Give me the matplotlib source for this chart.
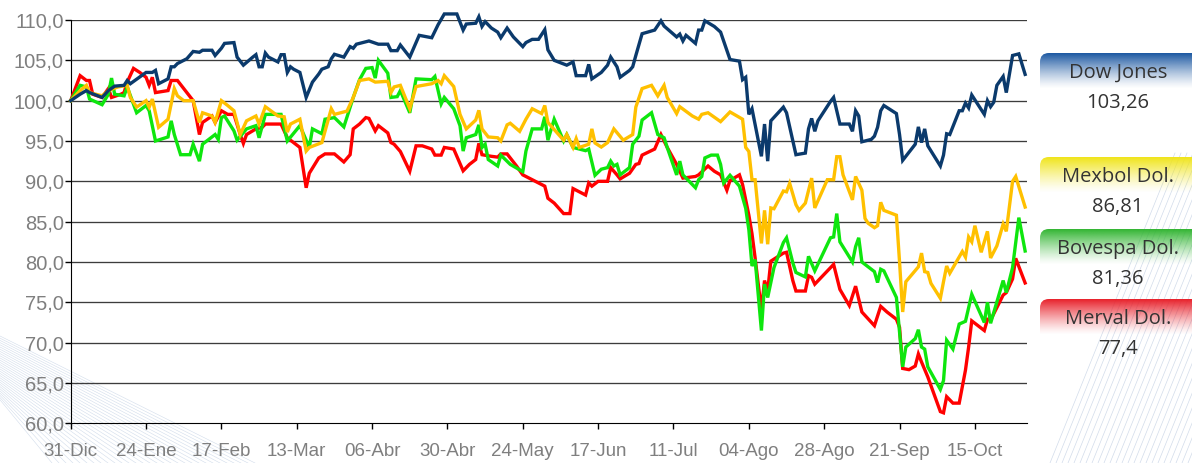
import matplotlib
matplotlib.use("Agg")
import matplotlib.pyplot as plt
import numpy as np
from matplotlib.patches import FancyBboxPatch
from matplotlib.ticker import FuncFormatter, FixedLocator

# days since 31-Dic-2010 and index values (base 100)
dow_days = [0, 3, 5, 6, 10, 12, 14, 17, 18, 19, 24, 26, 27, 28, 31, 32, 33, 34, 37, 39, 41, 42, 45, 46, 48, 49,
            52, 53, 55, 58, 59, 60, 61, 62, 63, 66, 67, 68, 69, 70, 71, 73, 75, 77, 79, 80, 82, 83, 84, 87, 89, 90,
            91, 95, 98, 101, 102, 104, 105, 108, 111, 115, 117, 119, 123, 125, 126, 129, 130, 131, 132, 134, 136,
            137, 139, 141, 144, 145, 147, 149, 151, 152, 154, 158, 160, 161, 164, 165, 166, 169, 171, 172, 174,
            175, 178, 179, 180, 182, 186, 188, 189, 193, 194, 195, 196, 199, 200, 201, 202, 205, 207, 209, 210,
            213, 214, 215, 216, 217, 220, 221, 222, 223, 227, 228, 230, 231, 234, 235, 236, 237, 238, 242, 243,
            245, 248, 249, 250, 251, 252, 255, 256, 257, 258, 259, 263, 264, 265, 266, 269, 270, 271, 272, 273,
            277, 278, 279, 280, 283, 284, 285, 286, 287, 291, 292, 293, 294, 295, 297, 298, 300, 302, 304]
dow_vals = [100.0, 100.8, 101.25, 101.0, 100.4, 101.25, 101.8, 101.9, 102.5, 102.1, 103.5, 103.5, 103.75, 102.1,
            102.7, 104.2, 104.2, 104.6, 105.2, 106.1, 106.0, 106.25, 106.25, 105.6, 106.5, 107.1, 107.2, 105.4,
            104.4, 105.4, 105.7, 104.2, 104.2, 105.9, 105.4, 104.8, 105.7, 105.7, 103.5, 104.2, 103.9, 103.5,
            100.4, 102.3, 103.3, 103.9, 104.2, 105.2, 105.75, 105.4, 106.7, 106.5, 107.0, 107.4, 107.0, 107.0,
            106.2, 106.2, 106.9, 105.4, 108.1, 107.8, 109.4, 110.75, 110.75, 108.75, 109.5, 109.6, 110.4, 109.2,
            109.8, 109.0, 108.5, 107.8, 109.0, 107.9, 106.7, 107.2, 107.6, 107.6, 108.8, 106.3, 105.0, 104.4,
            104.8, 103.1, 103.1, 104.5, 102.7, 103.5, 104.4, 105.4, 104.2, 102.9, 103.75, 104.2, 105.6, 108.3,
            108.75, 109.9, 109.25, 107.9, 108.25, 107.4, 108.1, 107.1, 108.75, 108.75, 109.9, 109.2, 108.5,
            106.25, 105.1, 104.9, 102.6, 102.9, 98.3, 99.0, 93.1, 97.1, 92.5, 97.5, 99.2, 98.5, 95.0, 93.3, 93.5,
            96.5, 97.8, 96.2, 97.5, 99.9, 100.4, 97.1, 97.1, 96.2, 98.75, 98.1, 94.9, 95.2, 95.6, 96.7, 98.75,
            99.4, 98.4, 95.8, 92.6, 93.1, 94.6, 96.75, 94.8, 96.5, 94.4, 91.9, 93.25, 95.9, 95.8, 98.75, 98.75,
            99.7, 99.1, 100.7, 98.3, 100.0, 99.25, 99.8, 101.9, 103.0, 101.0, 105.6, 105.8, 103.26]

mex_days = [0, 3, 5, 6, 10, 12, 15, 18, 19, 21, 24, 25, 26, 28, 31, 33, 34, 36, 39, 41, 42, 45, 46, 48, 50, 52,
            54, 56, 59, 60, 62, 66, 68, 69, 70, 73, 75, 76, 80, 83, 84, 88, 90, 92, 95, 97, 101, 102, 103, 105,
            108, 110, 115, 117, 118, 119, 122, 124, 126, 129, 130, 131, 133, 136, 137, 139, 140, 143, 145, 147,
            150, 151, 152, 157, 158, 160, 161, 162, 165, 166, 167, 169, 171, 173, 176, 179, 180, 182, 185, 187,
            189, 190, 193, 194, 198, 200, 201, 203, 207, 210, 214, 215, 216, 217, 218, 220, 221, 222, 223, 224,
            227, 228, 229, 231, 232, 234, 236, 237, 241, 243, 244, 245, 246, 249, 250, 252, 253, 254, 256, 257,
            258, 259, 263, 264, 265, 266, 270, 271, 272, 273, 274, 277, 278, 279, 280, 284, 285, 286, 287, 288,
            290, 292, 293, 295, 297, 298, 300, 301, 304]
mex_vals = [100.0, 101.25, 101.9, 101.0, 100.6, 101.25, 101.7, 101.9, 100.4, 99.2, 100.0, 99.2, 100.2, 96.7,
            97.7, 101.5, 100.6, 100.0, 100.0, 97.3, 98.5, 98.1, 97.3, 100.0, 99.4, 98.75, 95.8, 97.5, 98.1, 97.1,
            99.25, 98.1, 98.0, 96.1, 97.1, 97.7, 93.75, 94.2, 94.8, 99.0, 98.3, 98.7, 100.4, 102.5, 102.7, 102.3,
            102.4, 101.0, 101.7, 101.9, 99.0, 101.75, 102.1, 102.5, 102.1, 103.1, 101.75, 98.3, 96.5, 97.6, 98.8,
            96.5, 95.5, 95.4, 95.0, 97.0, 97.2, 96.2, 97.7, 99.0, 98.4, 99.4, 97.3, 95.1, 95.8, 94.2, 95.3, 94.2,
            94.6, 96.5, 94.75, 94.25, 94.8, 96.5, 95.1, 95.8, 99.2, 101.5, 101.9, 100.6, 101.9, 100.4, 98.4,
            99.25, 98.1, 97.7, 98.3, 98.5, 97.4, 98.6, 97.7, 94.2, 93.7, 90.2, 90.2, 82.3, 86.4, 82.2, 86.7,
            86.6, 88.8, 88.7, 89.75, 87.1, 86.4, 87.3, 90.4, 86.7, 90.2, 90.2, 93.05, 93.05, 90.8, 87.7, 90.6,
            88.9, 85.4, 84.8, 84.25, 84.5, 87.4, 86.4, 85.8, 80.0, 73.8, 77.55, 79.4, 81.1, 78.8, 78.7, 77.35,
            75.5, 77.55, 79.5, 78.6, 81.3, 80.6, 83.1, 82.5, 84.5, 81.2, 83.8, 80.5, 82.0, 84.7, 83.8, 90.0,
            90.6, 86.81]

bov_days = [0, 3, 5, 6, 10, 12, 13, 14, 17, 18, 21, 24, 25, 27, 31, 32, 33, 35, 38, 39, 41, 42, 46, 47, 48, 49,
            52, 53, 56, 59, 60, 62, 67, 69, 73, 76, 77, 80, 81, 84, 87, 90, 92, 94, 96, 97, 98, 101, 102, 104,
            105, 108, 110, 115, 116, 118, 119, 122, 124, 125, 126, 129, 130, 131, 132, 133, 136, 137, 140, 144,
            145, 147, 150, 151, 152, 154, 157, 158, 160, 164, 165, 167, 169, 171, 172, 173, 174, 175, 178, 179,
            181, 182, 185, 187, 189, 190, 193, 194, 195, 199, 200, 201, 202, 204, 206, 207, 208, 210, 213, 215,
            216, 217, 218, 220, 221, 222, 224, 227, 228, 230, 231, 234, 235, 237, 242, 243, 244, 245, 249, 250,
            251, 252, 256, 257, 258, 259, 263, 265, 266, 269, 270, 271, 272, 273, 277, 278, 279, 281, 283, 285,
            287, 291, 292, 293, 297, 298, 300, 302, 304]
bov_vals = [100.0, 101.9, 101.7, 100.2, 99.5, 100.8, 102.8, 100.8, 100.6, 101.7, 98.5, 99.4, 98.75, 95.0, 95.5,
            97.5, 95.8, 93.3, 93.3, 94.6, 92.5, 94.6, 95.8, 95.2, 97.9, 98.1, 96.25, 95.1, 96.5, 96.9, 95.4, 98.3,
            98.3, 95.0, 96.9, 94.2, 96.5, 95.9, 97.7, 97.9, 96.75, 100.4, 102.6, 104.0, 104.1, 102.8, 105.0,
            103.4, 100.4, 100.5, 101.25, 98.5, 102.7, 102.6, 103.0, 99.6, 100.4, 99.0, 96.9, 93.75, 95.4, 95.8,
            97.0, 94.2, 94.6, 92.7, 91.9, 93.25, 92.1, 91.2, 93.75, 96.5, 96.5, 98.0, 95.1, 97.7, 95.0, 95.8,
            94.2, 93.8, 94.0, 90.75, 91.5, 91.7, 92.5, 91.9, 92.1, 90.8, 91.7, 94.6, 95.6, 97.6, 98.5, 95.8,
            95.4, 94.2, 90.8, 92.5, 90.8, 89.2, 90.2, 90.6, 92.9, 93.25, 93.25, 92.1, 89.8, 90.75, 89.4, 86.65,
            84.0, 79.5, 80.3, 71.5, 77.25, 75.6, 79.3, 82.4, 83.0, 79.9, 78.7, 78.15, 80.7, 78.9, 83.0, 83.1,
            86.0, 82.5, 80.0, 81.9, 83.0, 80.0, 78.8, 77.45, 79.1, 78.9, 75.6, 67.0, 69.45, 70.5, 71.6, 69.45,
            69.2, 67.0, 64.2, 65.3, 70.3, 69.2, 72.3, 72.65, 76.0, 72.5, 75.0, 72.4, 77.7, 76.2, 79.3, 85.5, 81.36]

mer_days = [0, 3, 5, 6, 7, 10, 12, 13, 16, 17, 18, 20, 22, 24, 25, 26, 27, 31, 32, 34, 36, 39, 41, 42, 45, 46,
            48, 50, 52, 54, 55, 56, 59, 61, 62, 67, 69, 73, 75, 76, 79, 81, 84, 87, 89, 90, 92, 94, 95, 97, 98,
            101, 102, 103, 105, 108, 110, 112, 115, 116, 118, 119, 122, 123, 125, 127, 129, 130, 131, 134, 136,
            137, 139, 142, 144, 147, 150, 151, 152, 154, 157, 159, 160, 164, 165, 166, 168, 171, 172, 174, 175,
            178, 180, 181, 182, 186, 188, 190, 193, 195, 199, 200, 203, 205, 207, 209, 210, 213, 214, 216, 217,
            218, 220, 221, 222, 223, 225, 227, 228, 230, 231, 234, 235, 236, 237, 243, 245, 248, 250, 252, 256,
            258, 260, 263, 264, 265, 267, 269, 270, 271, 273, 277, 278, 279, 281, 283, 285, 286, 287, 291, 292,
            293, 297, 298, 300, 301, 304]
mer_vals = [100.0, 103.1, 102.5, 102.5, 100.8, 100.4, 101.5, 100.4, 100.8, 101.0, 102.3, 104.0, 103.5, 102.9,
            101.9, 102.9, 101.0, 101.25, 102.5, 102.5, 101.5, 100.0, 95.8, 97.3, 98.1, 97.3, 98.75, 98.3, 98.3,
            95.8, 94.7, 95.8, 96.5, 96.7, 97.1, 97.1, 95.4, 94.2, 89.2, 91.0, 92.9, 93.4, 93.4, 92.4, 93.3, 96.5,
            97.1, 97.9, 97.8, 96.25, 96.9, 96.0, 94.8, 94.6, 93.7, 91.25, 94.4, 94.4, 94.0, 93.25, 93.25, 94.2,
            94.0, 93.1, 91.3, 92.1, 92.7, 94.7, 93.3, 93.1, 93.0, 93.4, 93.4, 91.9, 90.8, 90.2, 89.6, 89.4, 87.9,
            87.3, 86.0, 86.0, 89.1, 88.3, 89.8, 89.4, 90.0, 90.0, 91.7, 90.8, 90.3, 91.0, 92.1, 92.2, 93.25, 94.0,
            95.8, 94.2, 92.1, 90.4, 90.6, 90.8, 91.9, 91.25, 90.8, 88.9, 90.1, 90.8, 89.6, 85.8, 83.5, 80.5, 74.0,
            77.7, 76.4, 80.1, 80.6, 81.1, 81.2, 77.7, 76.4, 76.4, 78.3, 78.1, 77.25, 79.7, 76.6, 74.6, 77.0, 73.8,
            72.1, 74.5, 73.8, 72.9, 71.9, 66.8, 66.65, 67.1, 68.6, 67.6, 65.75, 61.45, 61.3, 63.3, 62.5, 62.5,
            66.6, 69.45, 72.7, 71.5, 72.9, 72.8, 75.9, 76.2, 77.9, 80.45, 77.4]

tick_days = [0, 24, 48, 72, 96, 120, 144, 168, 192, 216, 240, 264, 288]
tick_labels = ["31-Dic", "24-Ene", "17-Feb", "13-Mar", "06-Abr", "30-Abr", "24-May", "17-Jun", "11-Jul",
               "04-Ago", "28-Ago", "21-Sep", "15-Oct"]

names = ["Dow Jones", "Mexbol Dol.", "Bovespa Dol.", "Merval Dol."]
line_colors = ["#0b3a6c", "#ffc000", "#0ee60e", "#ff0000"]
box_colors = ["#1c58a2", "#f0e41a", "#33b533", "#e8212b"]
box_tops = [53, 157, 229, 299]

W, H = 1192, 463
fig = plt.figure(figsize=(W / 100, H / 100), dpi=100)

# background layer in pixel coordinates
bg = fig.add_axes([0, 0, 1, 1], zorder=0)
bg.set_xlim(0, W)
bg.set_ylim(H, 0)
bg.axis("off")

# faint decorative strokes
for k in range(30):
    bg.plot([0, 255 - k * 7], [336 + k * 2.2, H], color="#c3d1e4", lw=0.4, alpha=0.75)
for k in range(28):
    x0 = 1050 + k * 6
    bg.plot([x0, x0 + 125], [H, H - 310], color="#cdd8e8", lw=0.5, alpha=0.9)

# main chart
ax = fig.add_axes([70.7 / W, 1 - 423.3 / H, 956 / W, 403.3 / H], zorder=1)
ax.patch.set_alpha(0)

series = [(dow_days, dow_vals), (mex_days, mex_vals), (bov_days, bov_vals), (mer_days, mer_vals)]
for i in [3, 2, 1, 0]:
    d, v = series[i]
    ax.plot(d, v, color=line_colors[i], lw=2.4, solid_joinstyle="miter", zorder=3 + (3 - i), clip_on=False)

ax.set_xlim(0, 304.5)
ax.set_ylim(60, 110)
ax.yaxis.set_major_locator(FixedLocator(np.arange(60, 111, 5)))
ax.yaxis.set_major_formatter(FuncFormatter(lambda v, p: f"{v:.1f}".replace(".", ",")))
ax.set_xticks(tick_days)
ax.set_xticklabels(tick_labels)
for y in np.arange(65, 111, 5):
    ax.axhline(y, color="#3c3c3c", lw=0.95, zorder=1)
for s in ["top", "right"]:
    ax.spines[s].set_visible(False)
ax.spines["left"].set_color("black")
ax.spines["bottom"].set_color("black")
ax.tick_params(axis="x", direction="out", length=4, width=1, pad=10, colors="#7f7f7f", labelsize=13.5)
ax.tick_params(axis="y", direction="out", length=4, width=1, pad=1, colors="#7f7f7f", labelsize=14.5)
ax.tick_params(color="black")
for lab in ax.get_xticklabels() + ax.get_yticklabels():
    lab.set_fontfamily("Liberation Sans")

# value tags on the right
for name, col, top, (d, v) in zip(names, box_colors, box_tops, series):
    x0, bh = 1040, 36
    rgba = np.zeros((64, 1, 4))
    rgba[..., :3] = matplotlib.colors.to_rgb(col)
    rgba[:, 0, 3] = np.linspace(1, 0, 64) ** 1.3
    im = bg.imshow(rgba, extent=(x0, W + 10, top + bh, top), aspect="auto", zorder=2, interpolation="bilinear")
    clip = FancyBboxPatch((x0, top), W + 10 - x0, bh + 10, boxstyle="round,pad=0,rounding_size=9",
                          transform=bg.transData, facecolor="none", edgecolor="none")
    bg.add_patch(clip)
    im.set_clip_path(clip)
    last = f"{round(v[-1], 2):g}".replace(".", ",")
    bg.text(1118, top + 20, name, ha="center", va="center", fontsize=14.5, color="#333333",
            fontfamily="Open Sans", zorder=3)
    bg.text(1118, top + 50, last, ha="center", va="center", fontsize=14.5, color="#333333",
            fontfamily="Open Sans", zorder=3)

fig.savefig("out.png", dpi=100)
